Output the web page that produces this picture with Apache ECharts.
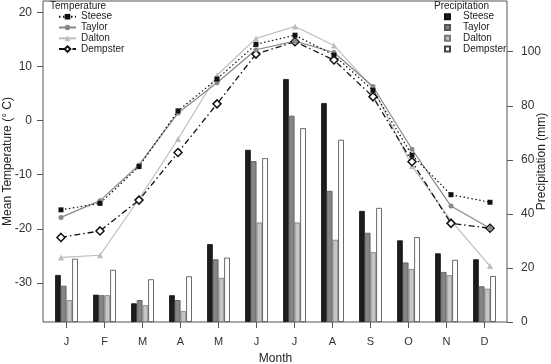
<!DOCTYPE html>
<html><head><meta charset="utf-8">
<script src="https://cdn.jsdelivr.net/npm/echarts@6/dist/echarts.min.js"></script>
<style>html,body{margin:0;padding:0;background:#fff}#c{width:551px;height:364px}</style>
</head><body><div id="c"></div>
<script>
const months = ['Jan','Feb','Mar','Apr','May','Jun','Jul','Aug','Sep','Oct','Nov','Dec'];
const monthLabels = ['J','F','M','A','M','J','J','A','S','O','N','D'];
const tempTicks = [-30,-20,-10,0,10,20];
const precipTicks = [0,20,40,60,80,100];

const steeseTemp   = [-16.5,-15.3,-8.5, 1.8, 7.7,14.1,15.8,12.1, 5.6,-6.4,-13.7,-15.1];
const taylorTemp   = [-17.9,-14.8,-8.2, 1.4, 7.0,13.1,14.7,12.6, 6.3,-5.3,-15.8,-19.9];
const daltonTemp   = [-25.3,-24.9,-14.5,-3.4, 8.4,15.2,17.4,13.9, 6.0,-8.4,-18.5,-26.9];
const dempsterTemp = [-21.6,-20.4,-14.7,-5.9, 3.1,12.3,14.6,11.2, 4.4,-7.6,-19.0,-19.9];

const steesePrecip   = [17.4,10.1, 6.9, 9.9,28.8,63.7,89.9,81.0,41.1,30.2,25.4,23.2];
const taylorPrecip   = [13.4, 9.9, 8.1, 8.1,23.2,59.5,76.3,48.5,33.0,22.0,18.5,13.2];
const daltonPrecip   = [ 8.1, 9.9, 6.2, 4.0,16.3,36.8,36.8,30.4,25.8,19.6,17.3,12.3];
const dempsterPrecip = [23.4,19.3,15.8,16.9,23.8,60.6,71.7,67.4,42.2,31.4,23.0,17.0];

const TMIN = -37.24, TMAX = 22.12, PMIN = 0, PMAX = 118.76;
const FONT = 'Liberation Sans, Arial, Helvetica, sans-serif';

const chart = echarts.init(document.getElementById('c'), null, {renderer:'canvas'});

function barSeries(name, data, color, border) {
  return {type:'bar', name:'P-'+name, data:data, xAxisIndex:1, yAxisIndex:2,
    barWidth:5.7, barGap:'0%', z:1,
    itemStyle:{color:color, borderColor:border, borderWidth:0.8}};
}

const option = {
  animation:false,
  textStyle:{fontFamily:FONT},
  title:[
    {text:'Temperature', left:50, top:1.5, padding:0, textStyle:{fontSize:10, fontWeight:'normal', color:'#222', fontFamily:FONT}},
    {text:'Precipitation', left:434, top:1.5, padding:0, textStyle:{fontSize:10, fontWeight:'normal', color:'#222', fontFamily:FONT}}
  ],
  legend:[
    {data:['Steese','Taylor','Dalton','Dempster'], orient:'vertical', left:58, top:11.7, padding:0,
     itemWidth:17, itemHeight:7, itemGap:0.8, selectedMode:false,
     textStyle:{fontSize:10, color:'#222', lineHeight:10, fontFamily:FONT}},
    {data:['P-Steese','P-Taylor','P-Dalton','P-Dempster'], orient:'vertical', left:444, top:11.7, padding:0,
     itemWidth:5, itemHeight:5, itemGap:0.8, icon:'rect', selectedMode:false,
     formatter:function(n){return n.replace('P-','');},
     textStyle:{fontSize:10, color:'#222', lineHeight:10, padding:[0,0,0,8], fontFamily:FONT}}
  ],
  grid:[
    {left:43, top:1, width:464, height:321, show:true, borderColor:'#555', borderWidth:1, backgroundColor:'transparent', outerBoundsMode:'none', containLabel:false},
    {left:47.5, top:1, width:456, height:321, outerBoundsMode:'none', containLabel:false},
    {left:41.5, top:1, width:468, height:321, outerBoundsMode:'none', containLabel:false}
  ],
  xAxis:[
    {gridIndex:0, type:'value', show:false, min:0, max:1},
    {gridIndex:1, type:'category', data:months,
     axisLine:{show:false},
     axisTick:{show:true, alignWithLabel:true, interval:0, length:6, lineStyle:{color:'#555'}},
     axisLabel:{interval:0, formatter:function(v,i){return monthLabels[i];}, margin:14, fontSize:11, color:'#333'},
     name:'Month', nameLocation:'middle', nameGap:31, nameMoveOverlap:false, nameTextStyle:{fontSize:12, color:'#222'}},
    {gridIndex:2, type:'category', data:months, show:false}
  ],
  yAxis:[
    {gridIndex:0, type:'value', position:'left', min:TMIN, max:TMAX,
     axisLine:{show:false}, splitLine:{show:false},
     axisTick:{show:true, length:6, customValues:tempTicks, lineStyle:{color:'#555'}},
     axisLabel:{customValues:tempTicks, margin:11, fontSize:12, color:'#333'},
     name:'Mean Temperature (° C)', nameLocation:'middle', nameGap:29, nameRotate:90, nameMoveOverlap:false,
     nameTextStyle:{fontSize:12, color:'#222'}},
    {gridIndex:0, type:'value', position:'right', min:PMIN, max:PMAX,
     axisLine:{show:false}, splitLine:{show:false},
     axisTick:{show:true, length:6, customValues:precipTicks, lineStyle:{color:'#555'}},
     axisLabel:{customValues:precipTicks, margin:14, fontSize:12, color:'#333'},
     name:'Precipitation (mm)', nameLocation:'middle', nameGap:29, nameRotate:90, nameMoveOverlap:false,
     nameTextStyle:{fontSize:12, color:'#222'}},
    {gridIndex:1, type:'value', min:PMIN, max:PMAX, show:false, splitLine:{show:false}},
    {gridIndex:2, type:'value', min:TMIN, max:TMAX, show:false, splitLine:{show:false}}
  ],
  series:[
    barSeries('Steese', steesePrecip, '#1c1c1c', '#111'),
    barSeries('Taylor', taylorPrecip, '#858585', '#555'),
    barSeries('Dalton', daltonPrecip, '#c6c6c6', '#777'),
    barSeries('Dempster', dempsterPrecip, '#ffffff', '#444'),
    {type:'line', name:'Dalton', data:daltonTemp, xAxisIndex:2, yAxisIndex:3, z:3,
     symbol:'triangle', symbolSize:6,
     lineStyle:{color:'#bdbdbd', width:1.2, type:'solid'},
     itemStyle:{color:'#bdbdbd'}},
    {type:'line', name:'Dempster', data:dempsterTemp, xAxisIndex:2, yAxisIndex:3, z:3,
     symbol:'diamond', symbolSize:8,
     lineStyle:{color:'#111', width:1.3, type:[6,3,1.5,3]},
     itemStyle:{color:'#fff', borderColor:'#111', borderWidth:1.5}},
    {type:'line', name:'Taylor', data:taylorTemp, xAxisIndex:2, yAxisIndex:3, z:3,
     symbol:'circle', symbolSize:5,
     lineStyle:{color:'#888', width:1.2, type:'solid'},
     itemStyle:{color:'#888'}},
    {type:'line', name:'Steese', data:steeseTemp, xAxisIndex:2, yAxisIndex:3, z:3,
     symbol:'rect', symbolSize:5,
     lineStyle:{color:'#111', width:1.2, type:[1.5,2.5]},
     itemStyle:{color:'#111'}}
  ]
};
chart.setOption(option);
</script>
</body></html>
